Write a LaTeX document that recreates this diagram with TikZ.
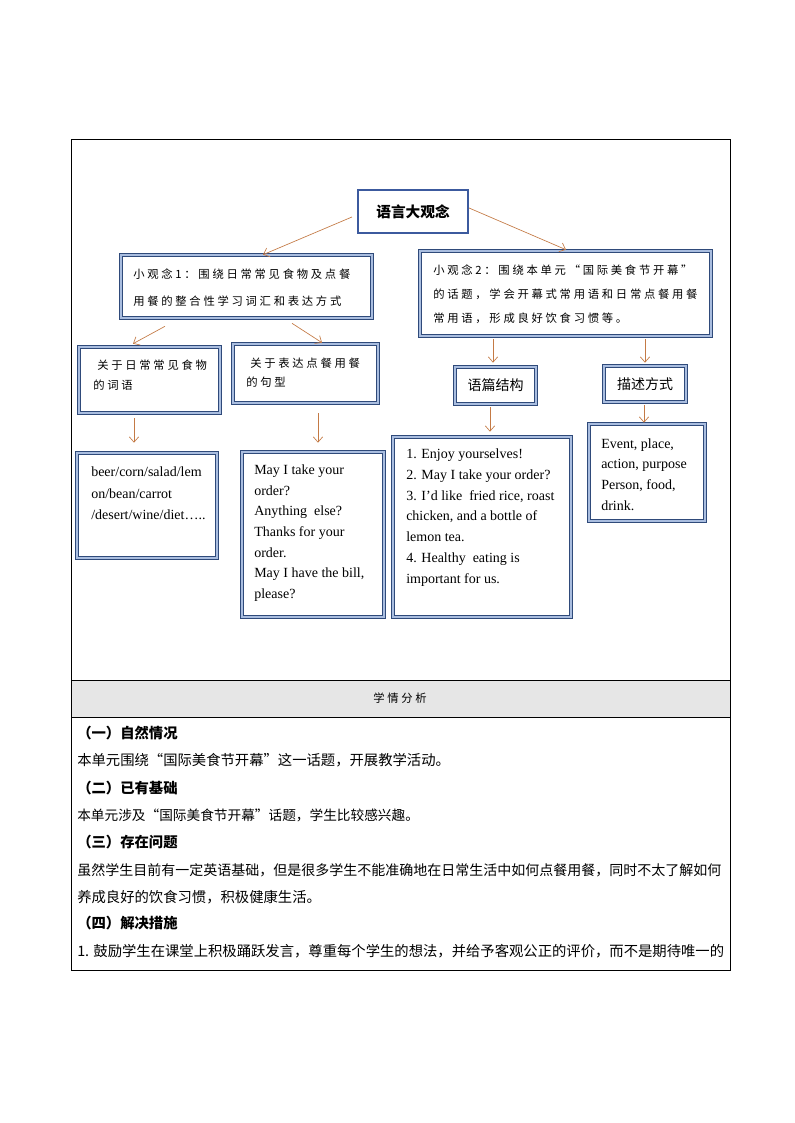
\documentclass[tikz,border=0pt]{standalone}
\usepackage{fontspec}
\setmainfont{Liberation Serif}
\newfontfamily\cjk{Noto Sans CJK SC}
\newfontfamily\cjkthin[LetterSpace=24]{Noto Sans CJK SC}
\usetikzlibrary{arrows.meta,positioning,calc}
\definecolor{framedark}{HTML}{2F4A7A}
\definecolor{framelight}{HTML}{A9BDDF}
\definecolor{topblue}{HTML}{3C5A9E}
\definecolor{arrowbrown}{HTML}{C47A45}
\definecolor{headgray}{HTML}{E6E6E6}
\tikzset{
  rule/.style={draw=black, line width=0.75pt},
  frame/.style={draw=framedark, double=framelight, double distance=1.5pt, line width=0.45pt, inner sep=0pt},
  topbox/.style={draw=topblue, line width=1.6pt, inner sep=0pt},
  arrow/.style={-{Straight Barb[length=4pt,width=7pt]}, draw=arrowbrown, line width=0.5pt},
  txt/.style={anchor=west, inner sep=0pt, align=left},
}

\begin{document}
\begin{tikzpicture}[x=0.75pt,y=-0.75pt]
  \useasboundingbox[fill=white] (0,0) rectangle (794,1123);
  % table frame
  \fill[headgray] (71,680) rectangle (730,717);
  \draw[rule] (71,140) rectangle (730,970);
  \draw[rule] (71,680) -- (730,680);
  \draw[rule] (71,717) -- (730,717);

  % concept map
  \node[topbox, minimum width=82.5pt, minimum height=32.25pt,
        font=\cjk\fontsize{11}{13}\selectfont\bfseries] (main) at (413,211.5) {语言大观念};

  \node[frame, minimum width=188.25pt, minimum height=47.25pt] (idea1) at (246.5,286.5) {};
  \node[txt, font=\cjkthin\fontsize{8.5}{20.25}\selectfont] (idea1t) at (133,287.5)
    {小观念1：围绕日常常见食物及点餐\\用餐的整合性学习词汇和表达方式};

  \node[frame, minimum width=218.25pt, minimum height=63.75pt] (idea2) at (565.5,293.5) {};
  \node[txt, font=\cjkthin\fontsize{8.5}{18}\selectfont] (idea2t) at (433,294.7)
    {小观念2：围绕本单元“国际美食节开幕”\\的话题，学会开幕式常用语和日常点餐用餐\\常用语，形成良好饮食习惯等。};

  \node[frame, minimum width=105.75pt, minimum height=49.5pt] (food) at (149.5,380) {};
  \node[txt, font=\cjkthin\fontsize{8.5}{15}\selectfont] (foodt) at (93,375)
    {\hspace*{3pt}关于日常常见食物\\的词语};

  \node[frame, minimum width=108.75pt, minimum height=44.25pt] (phrase) at (305.5,373.5) {};
  \node[txt, font=\cjkthin\fontsize{8.5}{14.25}\selectfont] (phraset) at (246,372.5)
    {\hspace*{3pt}关于表达点餐用餐\\的句型};

  \node[frame, minimum width=60.75pt, minimum height=27.75pt,
        font=\cjk\fontsize{10.5}{12}\selectfont] (structure) at (495.5,385.5) {语篇结构};
  \node[frame, minimum width=61.5pt, minimum height=27pt,
        font=\cjk\fontsize{10.5}{12}\selectfont] (describe) at (645,384) {描述方式};

  \node[frame, minimum width=105pt, minimum height=78.75pt] (words) at (147,505.5) {};
  \node[txt, font=\fontsize{10.5}{16.1}\selectfont] (wordst) at (91,493.3)
    {beer/corn/salad/lem\\on/bean/carrot\\/desert/wine/diet…..};

  \node[frame, minimum width=106.5pt, minimum height=123.75pt] (sentences) at (313,534.5) {};
  \node[txt, font=\fontsize{10.5}{15.5}\selectfont] (sentencest) at (254,533)
    {May I take your\\order?\\Anything\ \ else?\\Thanks for your\\order.\\May I have the bill,\\please?};

  \node[frame, minimum width=133.5pt, minimum height=135pt] (texts) at (482,527) {};
  \node[txt, font=\fontsize{10.5}{15.6}\selectfont] (textst) at (406,517.5)
    {1. Enjoy yourselves!\\2. May I take your order?\\3. I’d like\ \ fried rice, roast\\chicken, and a bottle of\\lemon tea.\\4. Healthy\ \ eating is\\important for us.};

  \node[frame, minimum width=87pt, minimum height=72.75pt] (points) at (647,472.5) {};
  \node[txt, font=\fontsize{10.5}{15.5}\selectfont] (pointst) at (601,474.3)
    {Event, place,\\action, purpose\\Person, food,\\drink.};

  % arrows
  \draw[arrow] ($(main.west)+(-5,5.5)$) -- ($(idea1.north)+(16.5,0)$);
  \draw[arrow] ($(main.east)+(0,-3.5)$) -- ($(idea2.north)+(0.5,-1)$);
  \draw[arrow] ($(idea1.south)+(-81.5,8)$) -- ($(food.north)+(-16.5,-3)$);
  \draw[arrow] ($(idea1.south)+(45.5,5)$) -- ($(phrase.north)+(16.5,-1)$);
  \draw[arrow] ($(idea2.south)+(-72.5,3)$) -- ($(structure.north)+(-2.5,-4)$);
  \draw[arrow] ($(idea2.south)+(79.5,3)$) -- ($(describe.north)+(0,-3)$);
  \draw[arrow] ($(food.south)+(-15.5,5)$) -- ($(words.north)+(-13,-10)$);
  \draw[arrow] ($(phrase.south)+(12.5,10)$) -- ($(sentences.north)+(5,-9)$);
  \draw[arrow] ($(structure.south)+(-5.5,3)$) -- ($(texts.north)+(8,-5)$);
  \draw[arrow] ($(describe.south)+(-1,3)$) -- ($(points.north)+(-3,-1)$);

  % learner analysis
  \node[inner sep=0pt, font=\cjkthin\fontsize{8.5}{10}\selectfont] (head) at (400,698) {学情分析};
  \node[txt, font=\cjk\fontsize{10.75}{13}\selectfont\bfseries] (h1) at (77,733) {（一）自然情况};
  \node[txt, font=\cjk\fontsize{10.75}{13}\selectfont] (l1) at (77,760) {本单元围绕“国际美食节开幕”这一话题，开展教学活动。};
  \node[txt, font=\cjk\fontsize{10.75}{13}\selectfont\bfseries] (h2) at (77,788) {（二）已有基础};
  \node[txt, font=\cjk\fontsize{10.25}{13}\selectfont] (l2) at (77,815) {本单元涉及“国际美食节开幕”话题，学生比较感兴趣。};
  \node[txt, font=\cjk\fontsize{10.75}{13}\selectfont\bfseries] (h3) at (77,842) {（三）存在问题};
  \node[txt, font=\cjk\fontsize{10.5}{13}\selectfont] (l3) at (77,870) {虽然学生目前有一定英语基础，但是很多学生不能准确地在日常生活中如何点餐用餐，同时不太了解如何};
  \node[txt, font=\cjk\fontsize{10.75}{13}\selectfont] (l4) at (77,897) {养成良好的饮食习惯，积极健康生活。};
  \node[txt, font=\cjk\fontsize{10.75}{13}\selectfont\bfseries] (h4) at (77,923) {（四）解决措施};
  \node[txt, font=\cjk\fontsize{10.75}{13}\selectfont] (l5) at (77,951) {1. 鼓励学生在课堂上积极踊跃发言，尊重每个学生的想法，并给予客观公正的评价，而不是期待唯一的};
\end{tikzpicture}
\end{document}
